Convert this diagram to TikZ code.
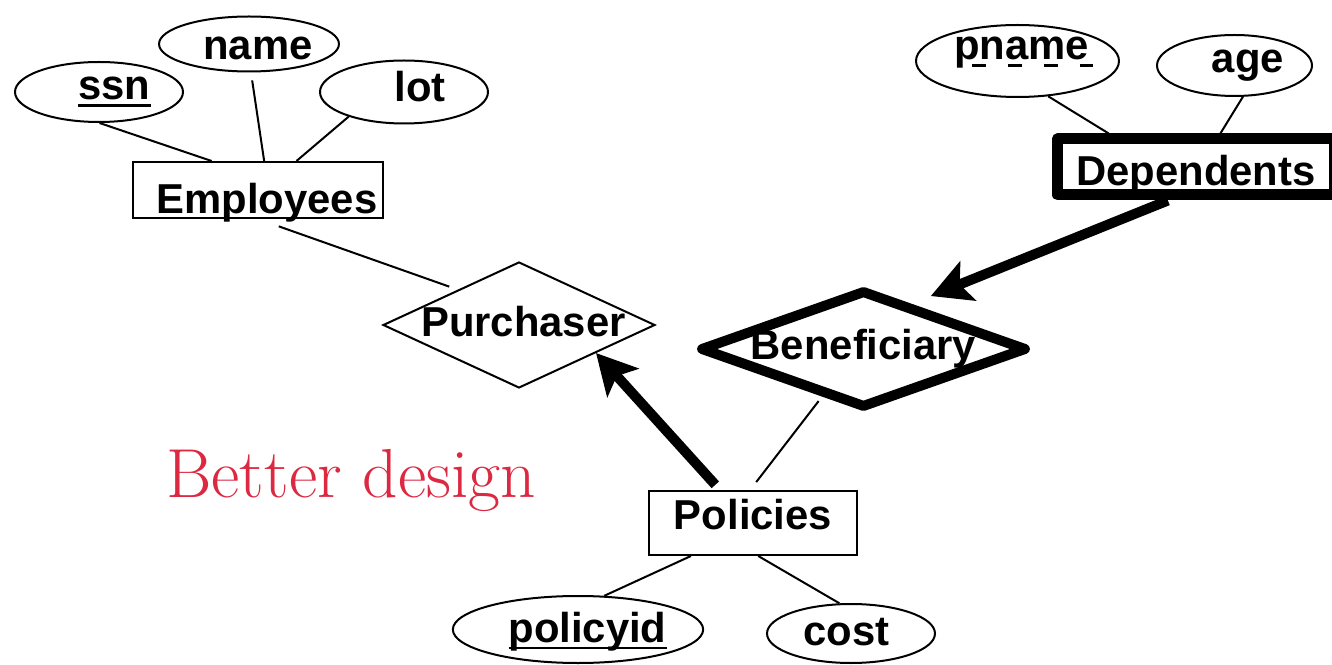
\documentclass[tikz,border=0pt]{standalone}
\usepackage{fontspec}
\newfontfamily\erfont{Liberation Sans}
\usetikzlibrary{shapes.geometric,arrows.meta}
\definecolor{design_red}{RGB}{220,40,64}
% one pixel of the slide
\newlength{\pxu}
\setlength{\pxu}{0.02cm}
\newcommand\keyattr[1]{\setbox0=\hbox{#1}\rlap{\rule[-7\pxu]{\wd0}{2.5\pxu}}\box0}

\begin{document}
\begin{tikzpicture}[x=0.02cm,y=-0.02cm,
    every node/.style={font=\erfont\bfseries\fontsize{23.8}{28}\selectfont,
      inner sep=0pt, text depth=0pt},
    attr/.style={ellipse, draw, line width=2\pxu},
    entity/.style={rectangle, draw, line width=2\pxu},
    weak entity/.style={rectangle, draw, line width=11\pxu, line join=round},
    relation/.style={diamond, draw, line width=2\pxu},
    ident relation/.style={diamond, draw, line width=10\pxu, line join=round},
    link/.style={line width=2\pxu},
    key arrow/.style={line width=10\pxu,
      -{Stealth[length=0.8cm, width=0.84cm, inset=0.18cm]}},
  ]
  \useasboundingbox (0,0) rectangle (1332,665);

  % Employees and its attributes
  \node[attr, minimum width=168\pxu, minimum height=60\pxu, text height=16\pxu]
    (ssn) at (99,92) {\hspace*{31\pxu}\keyattr{ssn}};
  \node[attr, minimum width=168\pxu, minimum height=55\pxu, text height=32\pxu]
    (name) at (249,44) {\hspace*{18\pxu}name};
  \node[attr, minimum width=168\pxu, minimum height=63\pxu, text height=20\pxu]
    (lot) at (404,92) {\hspace*{32\pxu}lot};
  \node[entity, minimum width=250\pxu, minimum height=56\pxu, text height=48\pxu]
    (emp) at (258,190) {\hspace*{18\pxu}Employees};

  % relationships
  \node[relation, minimum width=272\pxu, minimum height=126\pxu, text height=23\pxu]
    (pur) at (519,325) {\makebox[0pt]{\hspace*{9\pxu}Purchaser}};
  \node[ident relation, minimum width=327\pxu, minimum height=118\pxu, text height=22\pxu]
    (ben) at (863.5,349) {\makebox[0pt]{Beneficiary}};

  % Dependents (weak entity)
  \node[weak entity, minimum width=277\pxu, minimum height=56\pxu, text height=37\pxu]
    (dep) at (1196,167) {Dependents};
  \node[attr, minimum width=203\pxu, minimum height=72\pxu, text height=0pt, text depth=2\pxu]
    (pname) at (1017.5,61) {\hspace*{8\pxu}pname};
  \node[attr, minimum width=155\pxu, minimum height=61\pxu, text height=15\pxu]
    (age) at (1234.5,65.5) {\hspace*{27\pxu}age};
  \draw[line width=0.07cm, dash pattern=on 0.27cm off 0.45cm]
    ([xshift=-0.91cm,yshift=-0.11cm]pname.base) -- ++(121,0);

  % Policies
  \node[entity, minimum width=208\pxu, minimum height=64\pxu, text height=12\pxu]
    (pol) at (753,523) {Policies};
  \node[attr, minimum width=238\pxu, minimum height=67\pxu, text height=25\pxu]
    (pid) at (578,629.5) {\hspace*{19\pxu}\keyattr{policyid}};
  \node[attr, minimum width=168\pxu, minimum height=59\pxu, text height=23\pxu]
    (cost) at (851,633.5) {cost\hspace*{9\pxu}};

  \node[text=design_red, font={\rmfamily\mdseries\fontsize{39.5}{44}\selectfont},
    anchor=base west] (note) at (166,497) {Better design};

  % connectors
  \draw[link] (ssn.-89) -- (emp.148);
  \draw[link, shorten <=8\pxu] (name.-86) -- (emp.78);
  \draw[link] (lot.204) -- (emp.37);
  \draw[link, shorten <=22\pxu, shorten >=9\pxu] (emp.south) -- (pur.150);
  \draw[key arrow, shorten <=0.14cm] (pol.135) -- (pur.-20);
  \draw[link, shorten <=5\pxu, shorten >=10\pxu] (ben.229) -- (pol.95);
  \draw[key arrow, shorten >=0.4cm] (dep.230) -- (ben.43);
  \draw[link] (pname.-49) -- (dep.159);
  \draw[link] (age.-75) -- (dep.54);
  \draw[link] (pol.208) -- (pid.52);
  \draw[link] (pol.-81) -- (cost.111);
\end{tikzpicture}
\end{document}
